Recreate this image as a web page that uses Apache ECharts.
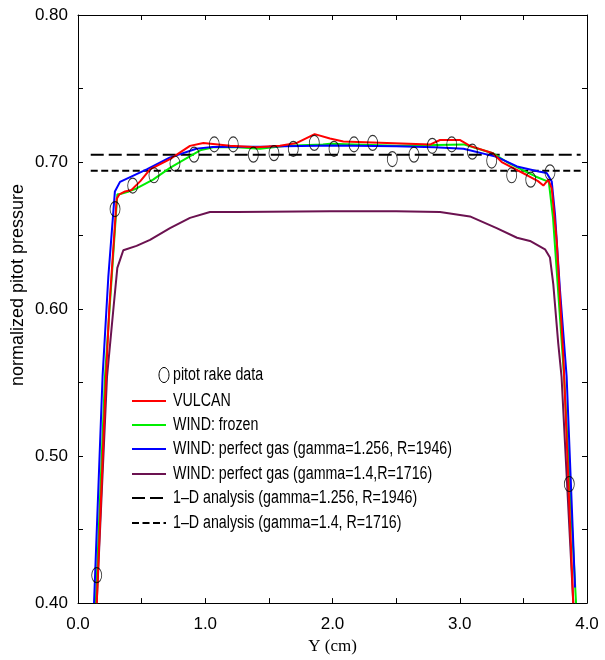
<!DOCTYPE html>
<html>
<head>
<meta charset="utf-8">
<script src="https://cdn.jsdelivr.net/npm/echarts@6/dist/echarts.min.js"></script>
<style>
html,body{margin:0;padding:0;background:#fff;}
#chart{width:605px;height:660px;}
</style>
</head>
<body>
<div id="chart"></div>
<script>
// ---- data (x = Y in cm, y = normalized pitot pressure) ----
var pitotX = [0.147,0.291,0.430,0.597,0.762,0.912,1.071,1.220,1.378,1.540,1.692,1.857,2.012,2.169,2.316,2.470,2.640,2.784,2.937,3.099,3.251,3.408,3.558,3.709,3.861];
var pitotY = [0.419,0.668,0.684,0.691,0.699,0.705,0.712,0.712,0.705,0.706,0.709,0.713,0.709,0.712,0.713,0.702,0.705,0.711,0.712,0.707,0.701,0.691,0.688,0.693,0.481];

var vulcanX = [0.147,0.220,0.246,0.304,0.325,0.370,0.420,0.490,0.566,0.723,0.880,0.985,1.195,1.404,1.587,1.720,1.860,1.980,2.085,2.770,2.845,3.000,3.080,3.260,3.330,3.530,3.615,3.657,3.696,3.723,3.762,3.814,3.892];
var vulcanY = [0.400,0.554,0.601,0.675,0.678,0.680,0.681,0.687,0.695,0.702,0.711,0.713,0.711,0.710,0.711,0.713,0.719,0.716,0.714,0.712,0.715,0.715,0.711,0.706,0.700,0.691,0.687,0.684,0.688,0.682,0.646,0.568,0.400];

var frozenX = [0.140,0.212,0.309,0.325,0.400,0.460,0.590,0.723,0.800,0.960,1.063,1.247,1.430,1.640,1.925,1.980,2.500,3.030,3.106,3.260,3.370,3.530,3.600,3.700,3.733,3.820,3.914];
var frozenY = [0.400,0.554,0.678,0.678,0.680,0.682,0.688,0.696,0.700,0.708,0.710,0.710,0.709,0.711,0.712,0.7125,0.711,0.712,0.710,0.706,0.700,0.693,0.690,0.6865,0.662,0.554,0.400];

var perf1256X = [0.126,0.193,0.238,0.290,0.330,0.540,0.720,0.930,1.060,1.500,2.000,2.500,2.800,3.030,3.290,3.450,3.620,3.683,3.723,3.749,3.788,3.840,3.906];
var perf1256Y = [0.400,0.554,0.6215,0.680,0.6865,0.695,0.703,0.709,0.7103,0.7105,0.7113,0.7108,0.710,0.709,0.7035,0.697,0.6935,0.6925,0.6867,0.664,0.6126,0.554,0.4106];

var perf14X = [0.147,0.228,0.277,0.309,0.356,0.460,0.566,0.723,0.880,1.037,1.247,1.980,2.500,2.845,3.080,3.290,3.450,3.552,3.670,3.709,3.735,3.774,3.800,3.892];
var perf14Y = [0.400,0.554,0.599,0.628,0.640,0.643,0.647,0.655,0.662,0.666,0.666,0.6665,0.6666,0.666,0.663,0.655,0.6485,0.6463,0.6406,0.635,0.617,0.5766,0.554,0.400];

var oneD1256X = [0.10, 3.95];
var oneD1256Y = [0.705, 0.705];
var oneD14X = [0.10, 3.95];
var oneD14Y = [0.694, 0.694];

var seriesNames = ['pitot rake data','VULCAN','WIND: frozen','WIND: perfect gas (gamma=1.256, R=1946)','WIND: perfect gas (gamma=1.4,R=1716)','1\u2013D analysis (gamma=1.256, R=1946)','1\u2013D analysis (gamma=1.4, R=1716)'];
var seriesColors = ['#000000','#ff0000','#00ee00','#0000ff','#6b1250','#000000','#000000'];

var xTicks = ['0.0','1.0','2.0','3.0','4.0'];
var yTicks = ['0.40','0.50','0.60','0.70','0.80'];

function zip(a, b){ return a.map(function(v,i){ return [v, b[i]]; }); }

var FONT = "'Liberation Sans',Arial,sans-serif";
var LONG_DASH = [13, 5];
var SHORT_DASH = [7, 3.5];
var dashes = [null, null, null, null, null, LONG_DASH, SHORT_DASH];

var chart = echarts.init(document.getElementById('chart'), null, {renderer:'canvas'});

function lineSeries(i, xs, ys, z){
  var c = seriesColors[i];
  return {
    name: seriesNames[i], type: 'line', data: zip(xs, ys), symbol: 'none', smooth: false,
    lineStyle: {color: c, width: 2, type: dashes[i] || 'solid'},
    itemStyle: {color: c},
    z: z, clip: true, animation: false
  };
}

// legend drawn as graphic (horizontally condensed text like the original)
var legendEls = [];
var rowY = [375, 401, 425, 449, 474, 498, 523];
legendEls.push({
  type: 'ellipse', shape: {cx: 164, cy: rowY[0], rx: 5, ry: 7.5},
  style: {fill: 'none', stroke: '#000', lineWidth: 1}
});
for (var i = 1; i < seriesNames.length; i++) {
  legendEls.push({
    type: 'line', shape: {x1: 132, y1: rowY[i], x2: 166, y2: rowY[i]},
    style: {stroke: seriesColors[i], lineWidth: 2, lineDash: dashes[i] || null}
  });
}
for (var j = 0; j < seriesNames.length; j++) {
  legendEls.push({
    type: 'text', x: 173, y: rowY[j], scaleX: 0.79, scaleY: 1,
    style: {text: seriesNames[j], fill: '#000', font: "18px " + FONT, align: 'left', verticalAlign: 'middle'}
  });
}
legendEls.push({
  type: 'text', x: 18, y: 285, rotation: Math.PI/2,
  style: {text: 'normalized pitot pressure', fill: '#000', font: "18px " + FONT,
    align: 'center', verticalAlign: 'middle'}
});

var option = {
  animation: false,
  backgroundColor: '#fff',
  grid: {left: 78, right: 18, top: 15, bottom: 51, containLabel: false},
  xAxis: [{
    type: 'value', min: 0, max: 4, interval: 0.5, position: 'bottom',
    axisLine: {onZero: false, lineStyle: {color: '#000', width: 1}},
    axisTick: {inside: true, length: 5, lineStyle: {color: '#000'}},
    splitLine: {show: false},
    axisLabel: {margin: 13, color: '#000', fontFamily: FONT, fontSize: 17,
      formatter: function(v){ var i = Math.round(v*2); return i % 2 === 0 ? xTicks[i/2] : ''; }},
    name: 'Y (cm)', nameLocation: 'middle', nameGap: 33,
    nameTextStyle: {color: '#000', fontFamily: "'Liberation Serif','Times New Roman',serif", fontSize: 17}
  }, {
    type: 'value', min: 0, max: 4, interval: 0.5, position: 'top',
    axisLine: {onZero: false, lineStyle: {color: '#000', width: 1}},
    axisTick: {inside: true, length: 5, lineStyle: {color: '#000'}},
    axisLabel: {show: false}, splitLine: {show: false}
  }],
  yAxis: [{
    type: 'value', min: 0.40, max: 0.80, interval: 0.05, position: 'left',
    axisLine: {show: true, onZero: false, lineStyle: {color: '#000', width: 1}},
    axisTick: {show: true, inside: true, length: 5, lineStyle: {color: '#000'}},
    splitLine: {show: false},
    axisLabel: {margin: 10, color: '#000', fontFamily: FONT, fontSize: 17,
      formatter: function(v){ var i = Math.round((v-0.40)*20); return i % 2 === 0 ? yTicks[i/2] : ''; }}
  }, {
    type: 'value', min: 0.40, max: 0.80, interval: 0.05, position: 'right',
    axisLine: {show: true, onZero: false, lineStyle: {color: '#000', width: 1}},
    axisTick: {show: true, inside: true, length: 5, lineStyle: {color: '#000'}},
    axisLabel: {show: false}, splitLine: {show: false}
  }],
  graphic: legendEls,
  series: [
    {
      name: seriesNames[0], type: 'scatter', data: zip(pitotX, pitotY),
      symbol: 'circle', symbolSize: [10, 15],
      itemStyle: {color: 'rgba(0,0,0,0)', borderColor: '#000', borderWidth: 1},
      z: 10
    },
    lineSeries(1, vulcanX, vulcanY, 6),
    lineSeries(2, frozenX, frozenY, 4),
    lineSeries(3, perf1256X, perf1256Y, 5),
    lineSeries(4, perf14X, perf14Y, 3),
    lineSeries(5, oneD1256X, oneD1256Y, 2),
    lineSeries(6, oneD14X, oneD14Y, 2)
  ]
};
chart.setOption(option);
</script>
</body>
</html>
